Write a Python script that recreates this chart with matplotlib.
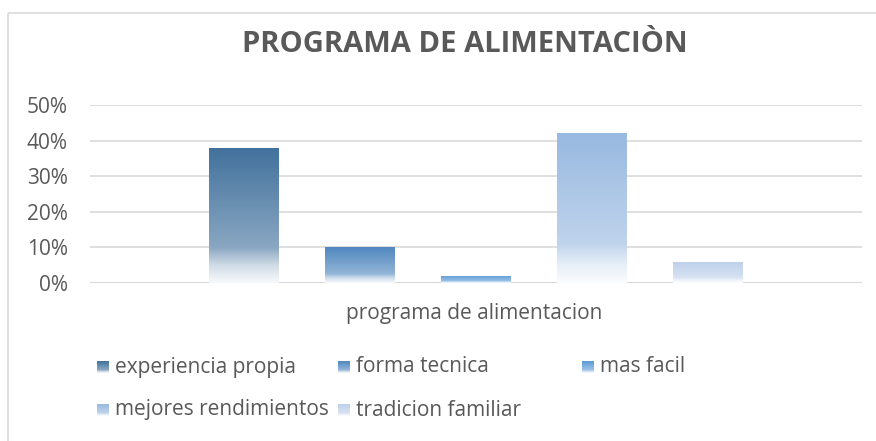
import matplotlib
matplotlib.use("Agg")
import matplotlib.pyplot as plt
import numpy as np
from matplotlib.colors import to_rgb
from matplotlib.patches import Rectangle

categories = ["programa de alimentacion"]
series = ["experiencia propia", "forma tecnica", "mas facil",
          "mejores rendimientos", "tradicion familiar"]
values = [0.38, 0.10, 0.02, 0.42, 0.06]
colors = ["#41719C", "#5087BE", "#5B9BD5", "#98B9E0", "#BDD0EA"]
yticks = [0, 0.1, 0.2, 0.3, 0.4, 0.5]
ytick_labels = ["0%", "10%", "20%", "30%", "40%", "50%"]
title = "PROGRAMA DE ALIMENTACIÒN"

FONT = "Open Sans"
TXT = "#595959"
W, H = 876, 441

def gradient_img(c, n=256):
    c = np.array(to_rgb(c))
    w = np.ones(3)
    ts = np.array([0.0, 0.74, 0.87, 1.0])
    mixes = np.array([0.0, 0.38, 0.75, 0.96])
    t = np.linspace(0, 1, n)
    m = np.interp(t, ts, mixes)
    img = c[None, :] * (1 - m[:, None]) + w[None, :] * m[:, None]
    return img[:, None, :]  # top row first

fig = plt.figure(figsize=(W / 100, H / 100), dpi=100)
fig.patch.set_facecolor("white")

# chart border
bg = fig.add_axes([0, 0, 1, 1])
bg.set_xlim(0, W)
bg.set_ylim(H, 0)
bg.axis("off")
bg.add_patch(Rectangle((8, 12.5), W + 20, H + 20, fill=False,
                       edgecolor="#D9D9D9", lw=1.2))

ax = fig.add_axes([90 / W, 1 - 283 / H, (862 - 90) / W, (283 - 105) / H])
ax.set_zorder(2)
ax.patch.set_alpha(0)
n = len(series)
width = 0.6
offsets = np.arange(n) - (n - 1) / 2
ax.set_xlim(-3.33, 3.33)
ax.set_ylim(0, 0.5)
for i, (s, v, c) in enumerate(zip(series, values, colors)):
    x = offsets[i]
    bars = ax.bar(x, v, width=width, color="none", edgecolor="none", zorder=3)
    r = bars[0]
    im = ax.imshow(gradient_img(c), extent=[x - width / 2, x + width / 2, 0, v],
                   aspect="auto", zorder=3, interpolation="bilinear", origin="upper")
    im.set_clip_path(r)
ax.set_xlim(-3.33, 3.33)
ax.set_ylim(0, 0.5)
ax.set_yticks(yticks)
ax.set_yticklabels(ytick_labels)
ax.set_xticks([])
for y in yticks:
    ax.axhline(y, color="#D9D9D9" if y > 0 else "#D0D0D0", lw=1.2, zorder=1)
for sp in ax.spines.values():
    sp.set_visible(False)
ax.tick_params(axis="y", length=0, pad=16, labelsize=15, labelcolor=TXT)
for lab in ax.get_yticklabels():
    lab.set_fontfamily(FONT)

fig.text(465 / W, 1 - 45 / H, title, ha="center", va="center",
         fontsize=21, fontweight="bold", color=TXT, family=FONT)
fig.text(474 / W, 1 - 314 / H, categories[0], ha="center", va="center",
         fontsize=15, color=TXT, family=FONT)

# legend
leg_pos = [(97, 367), (338, 367), (582, 367), (97, 410), (338, 410)]
for (lx, ly), s, c in zip(leg_pos, series, colors):
    bg.imshow(gradient_img(c), extent=[lx, lx + 12, ly + 6, ly - 6],
              aspect="auto", interpolation="bilinear", zorder=3, origin="upper")
    bg.text(lx + 18, ly, s, ha="left", va="center", fontsize=15,
            color=TXT, family=FONT)
bg.set_xlim(0, W)
bg.set_ylim(H, 0)

fig.savefig("out.png", dpi=100, facecolor="white")
